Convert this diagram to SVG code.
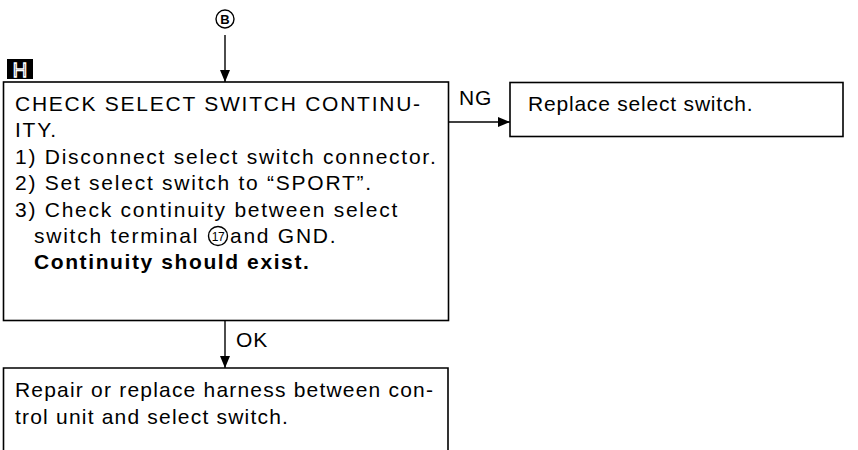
<svg xmlns="http://www.w3.org/2000/svg" width="858" height="450" viewBox="0 0 858 450">
<style>
.box{fill:#fff;stroke:#000;stroke-width:1.6}
.t{font-family:"Liberation Sans",Arial,sans-serif;font-size:21px;letter-spacing:1.75px;fill:#000}
.n{letter-spacing:0.8px}
.r{letter-spacing:1.2px}
.b{font-weight:bold;letter-spacing:1.6px}
.ln{stroke:#000;stroke-width:1.4;fill:none}
.c{fill:none;stroke:#000;stroke-width:1.4}
</style>
<defs>
<marker id="ah" viewBox="0 0 12 10" refX="12" refY="5" markerWidth="12" markerHeight="10" markerUnits="userSpaceOnUse" orient="auto">
<path d="M0,0 L12,5 L0,10 Z" fill="#000"/>
</marker>
</defs>
<rect width="858" height="450" fill="#fff"/>
<g id="ref-b">
<circle class="c" cx="225" cy="19" r="9"/>
<text x="225" y="24" text-anchor="middle" font-family="Liberation Sans,Arial,sans-serif" font-size="13" font-weight="bold">B</text>
</g>
<g id="label-h">
<rect x="7" y="59" width="26" height="20" fill="#000"/>
<text x="20" y="76.5" text-anchor="middle" font-family="Liberation Sans,Arial,sans-serif" font-size="20" fill="none" stroke="#fff" stroke-width="1.3">H</text>
</g>
<g id="connectors">
<line class="ln" x1="225" y1="35" x2="225" y2="82" marker-end="url(#ah)"/>
<line class="ln" x1="449" y1="122" x2="510" y2="122" marker-end="url(#ah)"/>
<text class="t n" x="459" y="105">NG</text>
<line class="ln" x1="225" y1="321" x2="225" y2="368" marker-end="url(#ah)"/>
<text class="t n" x="236" y="347">OK</text>
</g>
<g id="check">
<rect class="box" x="3.5" y="82" width="445" height="238.5"/>
<text class="t" x="15" y="111">CHECK SELECT SWITCH CONTINU-</text>
<text class="t" x="15" y="137">ITY.</text>
<text class="t" x="15" y="164">1) Disconnect select switch connector.</text>
<text class="t" x="15" y="190">2) Set select switch to “SPORT”.</text>
<text class="t" x="15" y="217">3) Check continuity between select</text>
<text class="t" x="34" y="243">switch terminal</text>
<circle class="c" cx="218" cy="236" r="9.5"/>
<text x="218" y="240.5" text-anchor="middle" font-family="Liberation Sans,Arial,sans-serif" font-size="12" letter-spacing="-0.5">17</text>
<text class="t" x="230" y="243">and GND.</text>
<text class="t b" x="34" y="269">Continuity should exist.</text>
</g>
<g id="replace">
<rect class="box" x="510" y="82.5" width="333" height="54"/>
<text class="t n" x="528" y="111">Replace select switch.</text>
</g>
<g id="repair">
<path class="box" d="M3.5,460 V368 H448 V460"/>
<text class="t r" x="15" y="397">Repair or replace harness between con-</text>
<text class="t r" x="15" y="424">trol unit and select switch.</text>
</g>
</svg>
